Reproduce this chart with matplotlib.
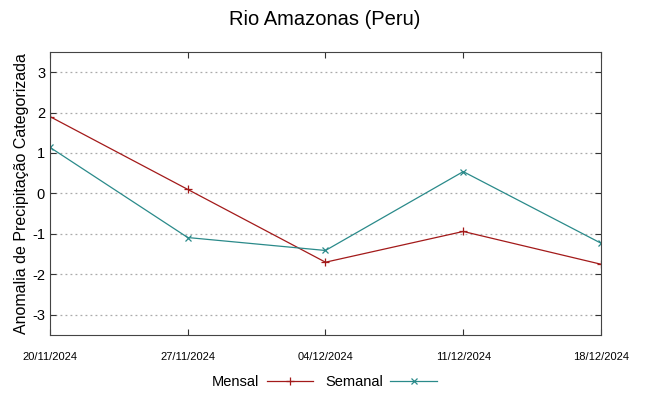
import matplotlib
matplotlib.use('Agg')
import matplotlib.pyplot as plt

plt.rcParams['font.family'] = ['Liberation Sans', 'DejaVu Sans']
plt.rcParams['axes.unicode_minus'] = False

dates = ['20/11/2024', '27/11/2024', '04/12/2024', '11/12/2024', '18/12/2024']
mensal = [1.90, 0.10, -1.70, -0.94, -1.75]
semanal = [1.14, -1.09, -1.41, 0.54, -1.23]
yticks = [-3, -2, -1, 0, 1, 2, 3]

fig = plt.figure(figsize=(6.49, 3.96), dpi=100)
ax = fig.add_axes([0.077, 0.154, 0.849, 0.715])

x = list(range(len(dates)))
ax.plot(x, mensal, color='#a31a1a', lw=0.9, marker='+', ms=6, mew=0.9, label='Mensal')
ax.plot(x, semanal, color='#2a8a8a', lw=0.9, marker='x', ms=5, mew=0.9, label='Semanal')

ax.set_xlim(0, len(dates) - 1)
ax.set_ylim(-3.5, 3.5)
ax.set_yticks(yticks)
ax.set_xticks(x)
ax.set_xticklabels(dates, fontsize=8)
ax.tick_params(axis='y', labelsize=10.5)
ax.tick_params(direction='in', right=True, top=True, length=4, color='#333333')
ax.tick_params(axis='x', pad=12)
ax.yaxis.grid(True, linestyle=(0, (1.5, 2.5)), color='#aaaaaa', lw=0.9)
for s in ax.spines.values():
  s.set_color('#444444')

ax.set_ylabel('Anomalia de Precipitação Categorizada', fontsize=11.5, labelpad=2)
fig.suptitle('Rio Amazonas (Peru)', fontsize=14.5, y=0.975)

fig.legend(loc='center', bbox_to_anchor=(0.5, 0.035), ncol=2, frameon=False,
           markerfirst=False, fontsize=10.5, handlelength=3.2, columnspacing=0.8, handletextpad=0.5)

fig.savefig('out.png', dpi=100)
